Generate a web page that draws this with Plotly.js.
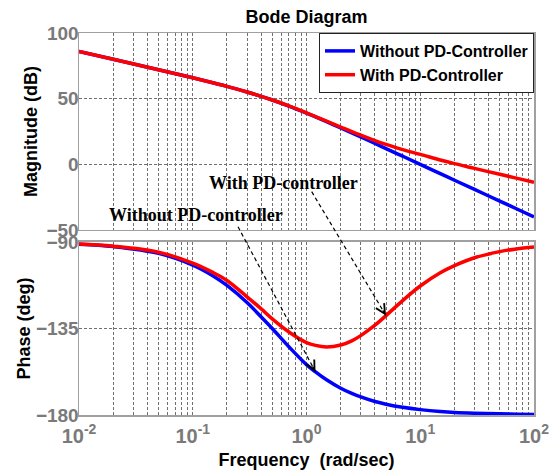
<!DOCTYPE html>
<html>
<head>
<meta charset="utf-8">
<script src="https://cdn.plot.ly/plotly-3.0.1.min.js"></script>
<style>html,body{margin:0;padding:0;background:#fff;}#chart{width:555px;height:474px;}</style>
</head>
<body>
<div id="chart"></div>
<script>
// ---- data ----
var freq = [0.01, 0.02, 0.05, 0.1, 0.15, 0.2, 0.3, 0.4, 0.5, 0.7, 1, 1.2, 1.5, 2, 2.5, 3, 4, 5, 7, 10, 15, 20, 30, 50, 70, 100];
var magWithout = [86.0, 80.0, 72.0, 65.9, 62.1, 59.4, 55.1, 51.8, 49.0, 44.4, 39.0, 36.1, 32.5, 27.7, 23.9, 20.8, 15.9, 12.0, 6.2, 0.0, -7.1, -12.1, -19.1, -28.0, -33.8, -40.0];
var magWith = [86.0, 80.0, 72.0, 65.9, 62.1, 59.4, 55.1, 51.8, 49.0, 44.5, 39.2, 36.4, 32.9, 28.4, 24.9, 22.2, 18.1, 15.2, 11.2, 7.6, 3.3, 0.5, -3.1, -7.6, -10.5, -13.6];
var phaseWithout = [-91.2, -92.4, -95.9, -102.0, -107.5, -112.6, -121.5, -129.0, -135.0, -144.5, -153.8, -157.6, -161.7, -166.1, -168.8, -170.6, -173.0, -174.4, -176.0, -177.2, -178.2, -178.7, -179.1, -179.4, -179.6, -179.7];
var phaseWith = [-91.1, -92.2, -95.3, -101.0, -105.8, -110.0, -118.5, -124.8, -130.0, -136.8, -142.3, -143.8, -144.6, -143.6, -141.4, -138.7, -133.3, -128.3, -120.5, -112.9, -106.0, -102.3, -98.2, -95.0, -93.6, -92.6];

var seriesNames = ['Without PD-Controller', 'With PD-Controller'];
var titleText = 'Bode Diagram';
var xTitle = 'Frequency  (rad/sec)';
var magTitle = 'Magnitude (dB)';
var phaseTitle = 'Phase (deg)';
var magTicks = [-50, 0, 50, 100];
var phaseTicks = [-180, -135, -90];
var decades = [0.01, 0.1, 1, 10, 100];
var decadeLabels = ['10<sup>-2</sup>', '10<sup>-1</sup>', '10<sup>0</sup>', '10<sup>1</sup>', '10<sup>2</sup>'];
var annoWith = 'With PD-controller';
var annoWithout = 'Without PD-controller';

// ---- build log grid ticks ----
var gridVals = [], gridText = [], topText = [];
for (var d = 0; d < decades.length; d++) {
  for (var m = 1; m <= 9; m++) {
    var v = decades[d] * m;
    if (v > 100.0001) break;
    gridVals.push(v);
    gridText.push(m === 1 ? decadeLabels[d] : '');
    topText.push('');
  }
}

var BLUE = '#0000FF', RED = '#FF0000';
var LW = 3.5;
var traces = [
  {x: freq, y: magWithout, xaxis: 'x', yaxis: 'y', mode: 'lines', name: seriesNames[0],
   line: {color: BLUE, width: LW, shape: 'spline', smoothing: 1}},
  {x: freq, y: magWith, xaxis: 'x', yaxis: 'y', mode: 'lines', name: seriesNames[1],
   line: {color: RED, width: LW, shape: 'spline', smoothing: 1}},
  {x: freq, y: phaseWithout, xaxis: 'x2', yaxis: 'y2', mode: 'lines', showlegend: false,
   line: {color: BLUE, width: LW, shape: 'spline', smoothing: 1}},
  {x: freq, y: phaseWith, xaxis: 'x2', yaxis: 'y2', mode: 'lines', showlegend: false,
   line: {color: RED, width: LW, shape: 'spline', smoothing: 1}}
];

var W = 555, H = 474, ML = 79, MR = 21, MT = 33, MB = 59;
var PW = W - ML - MR, PH = H - MT - MB;
var xr = [-2, 2];
var magR = [-50, 100], phR = [-180, -90];
var magDom = [0.4843, 1], phDom = [0, 0.4529];

var FONT = 'Liberation Sans, Arial, sans-serif';
var SERIF = 'Liberation Serif, Times New Roman, serif';
var GRAYTXT = '#7a7a7a';
var gridCommon = {showgrid: true, gridcolor: '#707070', gridwidth: 1, griddash: '3px,2px',
  showline: true, linecolor: '#a0a0a0', linewidth: 1.5, mirror: true, zeroline: false, ticks: ''};

function xPaper(f) { return (Math.log10(f) - xr[0]) / (xr[1] - xr[0]); }
function yPaperPh(p) { return phDom[0] + (p - phR[0]) / (phR[1] - phR[0]) * (phDom[1] - phDom[0]); }
function toPx(xp, yp) { return [ML + xp * PW, MT + (1 - yp) * PH]; }

// arrow tips on the curves (data points), tails near the text labels
var tipWith = [xPaper(freq[17]), yPaperPh(phaseWith[17])];
var tipWithout = [xPaper(freq[11]), yPaperPh(phaseWithout[11])];
var tailWith = [0.5114, 0.5846];
var tailWithout = [0.3495, 0.4929];

function arrowParts(tail, tip) {
  var a = toPx(tail[0], tail[1]), b = toPx(tip[0], tip[1]);
  var dx = b[0] - a[0], dy = b[1] - a[1], L = Math.sqrt(dx * dx + dy * dy);
  var shape = {type: 'line', xref: 'paper', yref: 'paper', x0: tail[0], y0: tail[1], x1: tip[0], y1: tip[1],
    line: {color: '#000', width: 1.2, dash: '4px,3px'}, layer: 'above'};
  var head = {xref: 'paper', yref: 'paper', x: tip[0], y: tip[1], ax: -dx / L * 8, ay: -dy / L * 8,
    showarrow: true, arrowhead: 5, arrowsize: 1.7, arrowwidth: 1.1, arrowcolor: '#000', text: '', standoff: 0};
  return [shape, head];
}
var aw = arrowParts(tailWith, tipWith), awo = arrowParts(tailWithout, tipWithout);

var layout = {
  width: W, height: H,
  margin: {l: ML, r: MR, t: MT, b: MB, pad: 0},
  paper_bgcolor: '#fff', plot_bgcolor: '#fff',
  font: {family: FONT, color: '#000'},
  title: {text: '<b>' + titleText + '</b>', font: {family: FONT, size: 18, color: '#000'},
    xref: 'paper', x: 0.5, xanchor: 'center', yref: 'container', y: 1 - 17 / H, yanchor: 'middle'},
  showlegend: true,
  legend: {x: 1, y: 1, xanchor: 'right', yanchor: 'top', bgcolor: '#fff', bordercolor: '#222', borderwidth: 1,
    font: {family: FONT, size: 16, color: '#000', weight: 'bold'}, tracegroupgap: 0},
  xaxis: Object.assign({}, gridCommon, {type: 'log', range: xr, anchor: 'y', domain: [0, 1],
    tickmode: 'array', tickvals: gridVals, ticktext: topText, showticklabels: false}),
  xaxis2: Object.assign({}, gridCommon, {type: 'log', range: xr, anchor: 'y2', domain: [0, 1],
    tickmode: 'array', tickvals: gridVals, ticktext: gridText, ticklabelstandoff: 2,
    tickfont: {family: FONT, size: 20, color: GRAYTXT, weight: 'bold'},
    title: {text: '<b>' + xTitle + '</b>', font: {family: FONT, size: 18, color: '#000'}, standoff: 8}}),
  yaxis: Object.assign({}, gridCommon, {range: magR, domain: magDom, anchor: 'x',
    tickmode: 'array', tickvals: magTicks, ticklabelstandoff: -5,
    tickfont: {family: FONT, size: 19, color: GRAYTXT, weight: 'bold'},
    title: {text: '<b>' + magTitle + '</b>', font: {family: FONT, size: 18, color: '#000'}, standoff: 4}}),
  yaxis2: Object.assign({}, gridCommon, {range: phR, domain: phDom, anchor: 'x2',
    tickmode: 'array', tickvals: phaseTicks, ticklabelstandoff: -5,
    tickfont: {family: FONT, size: 19, color: GRAYTXT, weight: 'bold'},
    title: {text: '<b>' + phaseTitle + '</b>', font: {family: FONT, size: 18, color: '#000'}, standoff: 0}}),
  shapes: [aw[0], awo[0]],
  annotations: [
    {xref: 'paper', yref: 'paper', x: 0.4505, y: 0.6073, text: '<b>' + annoWith + '</b>', showarrow: false,
     font: {family: SERIF, size: 18, color: '#000'}, xanchor: 'center', yanchor: 'middle'},
    {xref: 'paper', yref: 'paper', x: 0.2582, y: 0.5223, text: '<b>' + annoWithout + '</b>', showarrow: false,
     font: {family: SERIF, size: 18, color: '#000'}, xanchor: 'center', yanchor: 'middle'},
    aw[1], awo[1]
  ]
};

Plotly.newPlot('chart', traces, layout, {staticPlot: true, displayModeBar: false});
</script>
</body>
</html>
